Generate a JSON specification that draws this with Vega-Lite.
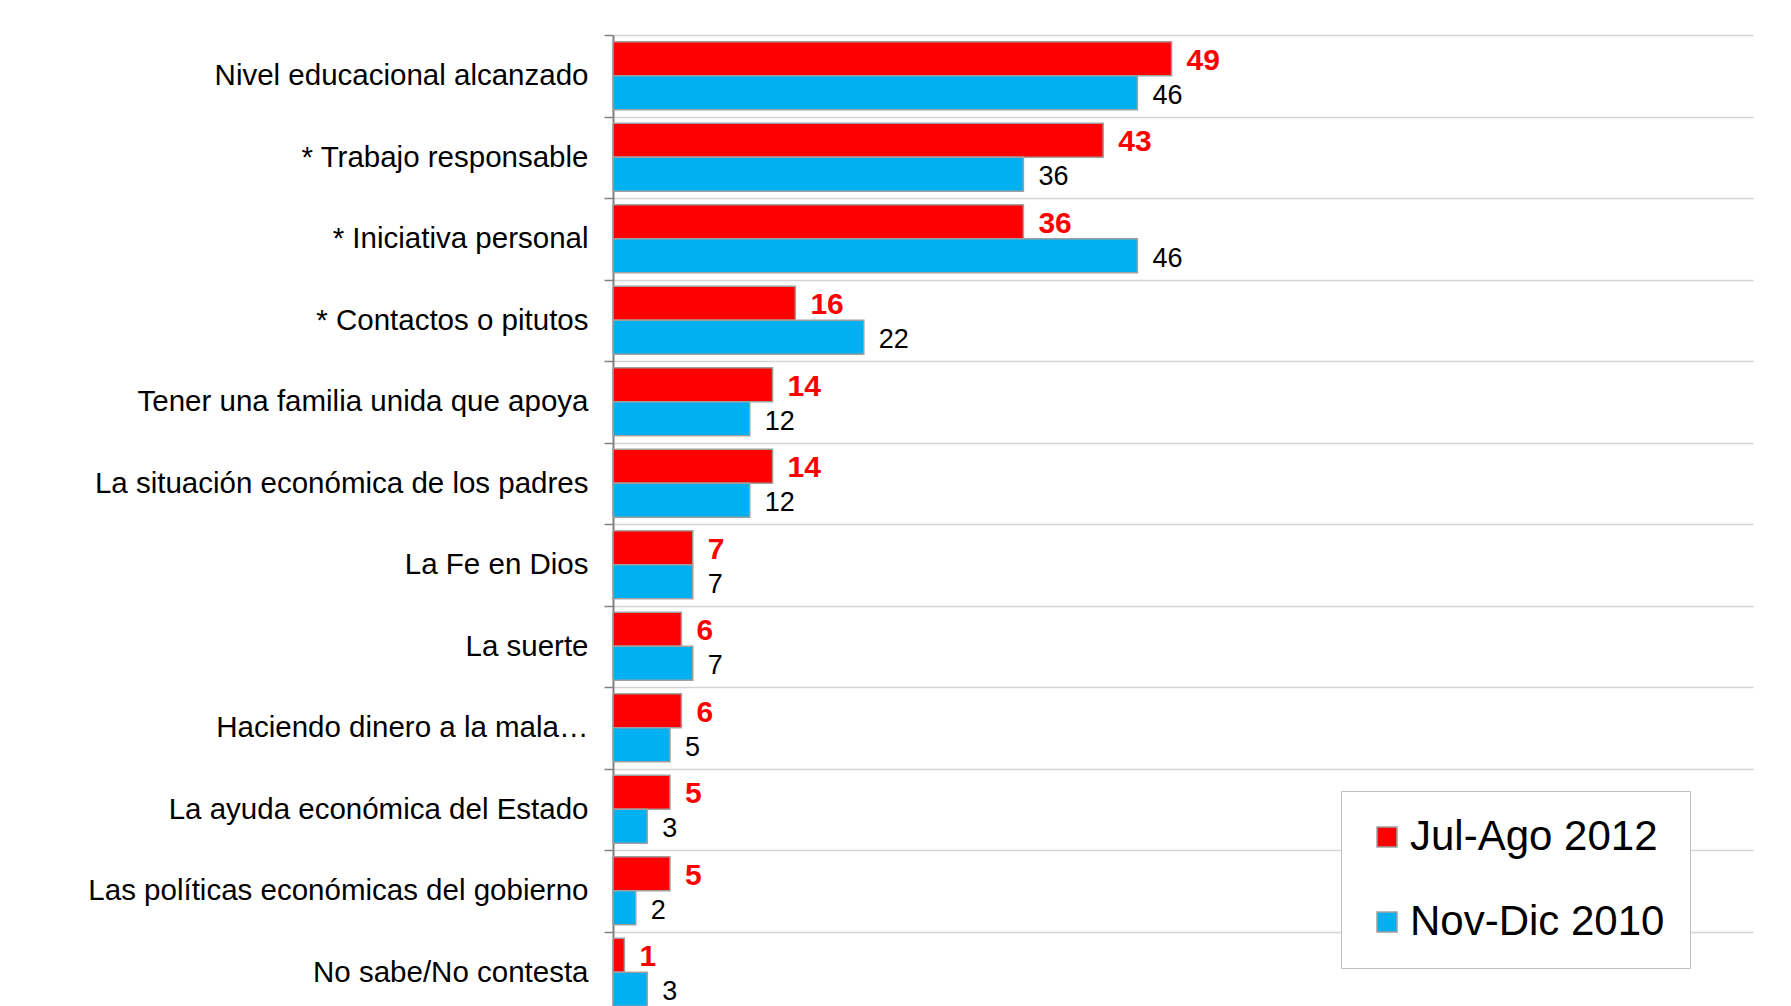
{
  "$schema": "https://vega.github.io/schema/vega-lite/v6.json",
  "autosize": {"type": "none"},
  "padding": {"left": 613, "top": 35, "right": 38, "bottom": -7},
  "width": 1140,
  "height": 978,
  "background": "#ffffff",
  "config": {
    "view": {"stroke": null},
    "font": "Liberation Sans"
  },
  "data": {
    "values": [
      {"cat": "Nivel educacional alcanzado", "serie": "Jul-Ago 2012", "value": 49},
      {"cat": "Nivel educacional alcanzado", "serie": "Nov-Dic 2010", "value": 46},
      {"cat": "* Trabajo responsable", "serie": "Jul-Ago 2012", "value": 43},
      {"cat": "* Trabajo responsable", "serie": "Nov-Dic 2010", "value": 36},
      {"cat": "* Iniciativa personal", "serie": "Jul-Ago 2012", "value": 36},
      {"cat": "* Iniciativa personal", "serie": "Nov-Dic 2010", "value": 46},
      {"cat": "* Contactos o pitutos", "serie": "Jul-Ago 2012", "value": 16},
      {"cat": "* Contactos o pitutos", "serie": "Nov-Dic 2010", "value": 22},
      {"cat": "Tener una familia unida que apoya", "serie": "Jul-Ago 2012", "value": 14},
      {"cat": "Tener una familia unida que apoya", "serie": "Nov-Dic 2010", "value": 12},
      {"cat": "La situación económica de los padres", "serie": "Jul-Ago 2012", "value": 14},
      {"cat": "La situación económica de los padres", "serie": "Nov-Dic 2010", "value": 12},
      {"cat": "La Fe en Dios", "serie": "Jul-Ago 2012", "value": 7},
      {"cat": "La Fe en Dios", "serie": "Nov-Dic 2010", "value": 7},
      {"cat": "La suerte", "serie": "Jul-Ago 2012", "value": 6},
      {"cat": "La suerte", "serie": "Nov-Dic 2010", "value": 7},
      {"cat": "Haciendo dinero a la mala…", "serie": "Jul-Ago 2012", "value": 6},
      {"cat": "Haciendo dinero a la mala…", "serie": "Nov-Dic 2010", "value": 5},
      {"cat": "La ayuda económica del Estado", "serie": "Jul-Ago 2012", "value": 5},
      {"cat": "La ayuda económica del Estado", "serie": "Nov-Dic 2010", "value": 3},
      {"cat": "Las políticas económicas del gobierno", "serie": "Jul-Ago 2012", "value": 5},
      {"cat": "Las políticas económicas del gobierno", "serie": "Nov-Dic 2010", "value": 2},
      {"cat": "No sabe/No contesta", "serie": "Jul-Ago 2012", "value": 1},
      {"cat": "No sabe/No contesta", "serie": "Nov-Dic 2010", "value": 3}
    ]
  },
  "encoding": {
    "y": {
      "field": "cat",
      "type": "nominal",
      "sort": null,
      "scale": {"paddingInner": 0, "paddingOuter": 0},
      "axis": {
        "title": null,
        "tickBand": "extent",
        "labelFontSize": 29.5,
        "labelColor": "#000000",
        "labelLimit": 700,
        "labelPadding": 16,
        "tickSize": 9,
        "tickColor": "#808080",
        "tickWidth": 1.5,
        "domainColor": "#808080",
        "domainWidth": 2,
        "grid": true,
        "gridColor": "#d4d4d4",
        "gridWidth": 1.5
      }
    },
    "yOffset": {
      "field": "serie",
      "type": "nominal",
      "sort": ["Jul-Ago 2012", "Nov-Dic 2010"],
      "scale": {"paddingInner": 0, "paddingOuter": 0.2}
    },
    "x": {
      "field": "value",
      "type": "quantitative",
      "scale": {"domain": [0, 100], "nice": false},
      "axis": null
    }
  },
  "layer": [
    {
      "mark": {"type": "bar", "stroke": "#a0a0a0", "strokeWidth": 1.5},
      "encoding": {
        "color": {
          "field": "serie",
          "type": "nominal",
          "sort": ["Jul-Ago 2012", "Nov-Dic 2010"],
          "scale": {"domain": ["Jul-Ago 2012", "Nov-Dic 2010"], "range": ["#ff0000", "#00b0f0"]},
          "legend": {
            "title": null,
            "orient": "none",
            "legendX": 728,
            "legendY": 756,
            "direction": "vertical",
            "symbolType": "square",
            "symbolSize": 400,
            "symbolStrokeColor": "#a0a0a0",
            "symbolStrokeWidth": 1.5,
            "labelFontSize": 42,
            "labelColor": "#000000",
            "labelOffset": 2,
            "rowPadding": 43,
            "padding": 25,
            "strokeColor": "#bfbfbf",
            "fillColor": "#ffffff",
            "labelLimit": 500
          }
        }
      }
    },
    {
      "transform": [{"filter": "datum.serie === 'Jul-Ago 2012'"}],
      "mark": {"type": "text", "align": "left", "baseline": "middle", "dx": 15, "dy": 2, "fontSize": 30, "fontWeight": "bold", "color": "#ff0000"},
      "encoding": {"text": {"field": "value", "type": "quantitative"}}
    },
    {
      "transform": [{"filter": "datum.serie === 'Nov-Dic 2010'"}],
      "mark": {"type": "text", "align": "left", "baseline": "middle", "dx": 15, "dy": 3, "fontSize": 27, "color": "#000000"},
      "encoding": {"text": {"field": "value", "type": "quantitative"}}
    }
  ]
}
